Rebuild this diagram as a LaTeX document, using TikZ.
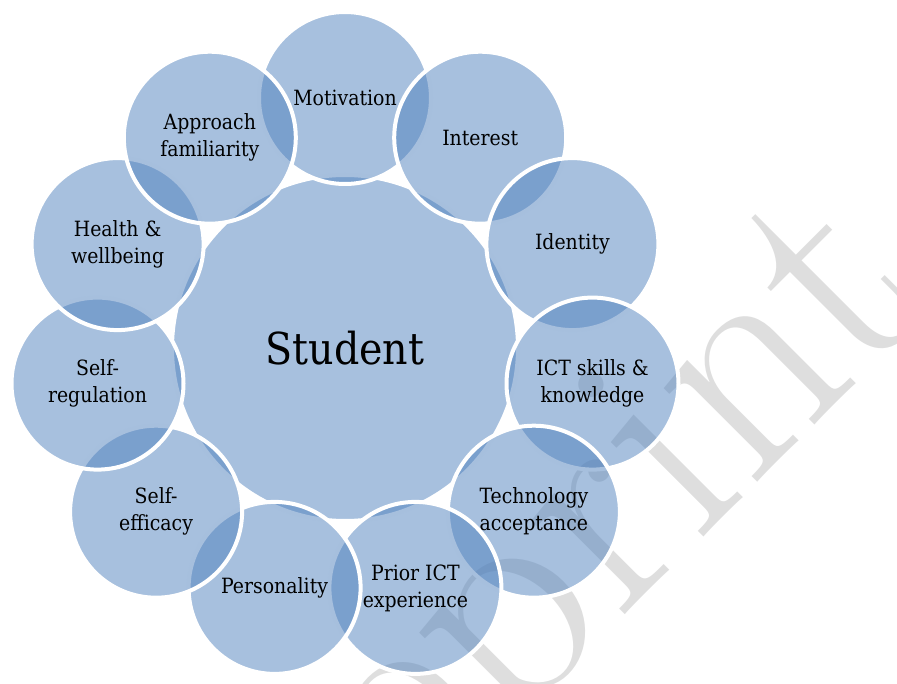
\documentclass[tikz,border=0pt]{standalone}
\usepackage{fontspec}
\newfontfamily\labelfont{DejaVu Serif Condensed}
\definecolor{acc}{RGB}{79,129,189}
\definecolor{wm}{RGB}{222,222,222}
\begin{document}
\begin{tikzpicture}[x=1pt,y=-1pt,
  bubble/.style={circle, fill=acc, fill opacity=0.5, text opacity=1,
    draw=white, draw opacity=1, line width=4pt, minimum size=172pt,
    inner sep=0pt, align=center, text=black,
    font=\labelfont\fontsize{21}{27}\selectfont},
  hub/.style={bubble, minimum size=346pt, font=\labelfont\fontsize{44}{52}\selectfont},
  watermark/.style={rotate=45, anchor=base west, inner sep=0pt, text=wm,
    font=\fontsize{310}{310}\selectfont}]
\useasboundingbox (0,0) rectangle (897,684);
\begin{scope}
\clip (0,0) rectangle (897,684);
\node[watermark] (wmark) at (202,1038) {Preprint};
\end{scope}
\node[hub] (student) at (345,348) {Student};
\node[bubble] (motivation) at (345,98) {Motivation};
\node[bubble] (interest) at (480.2,137.7) {Interest};
\node[bubble] (identity) at (572.4,244.1) {Identity};
\node[bubble] (ict) at (592.5,383.6) {ICT skills \&\\knowledge};
\node[bubble] (tech) at (533.9,511.7) {Technology\\acceptance};
\node[bubble] (prior) at (415.4,587.9) {Prior ICT\\experience};
\node[bubble] (personality) at (274.6,587.9) {Personality};
\node[bubble] (selfeff) at (156.1,511.7) {Self-\\efficacy};
\node[bubble] (selfreg) at (97.5,383.6) {Self-\\regulation};
\node[bubble] (health) at (117.6,244.1) {Health \&\\wellbeing};
\node[bubble] (approach) at (209.8,137.7) {Approach\\familiarity};
\end{tikzpicture}
\end{document}
